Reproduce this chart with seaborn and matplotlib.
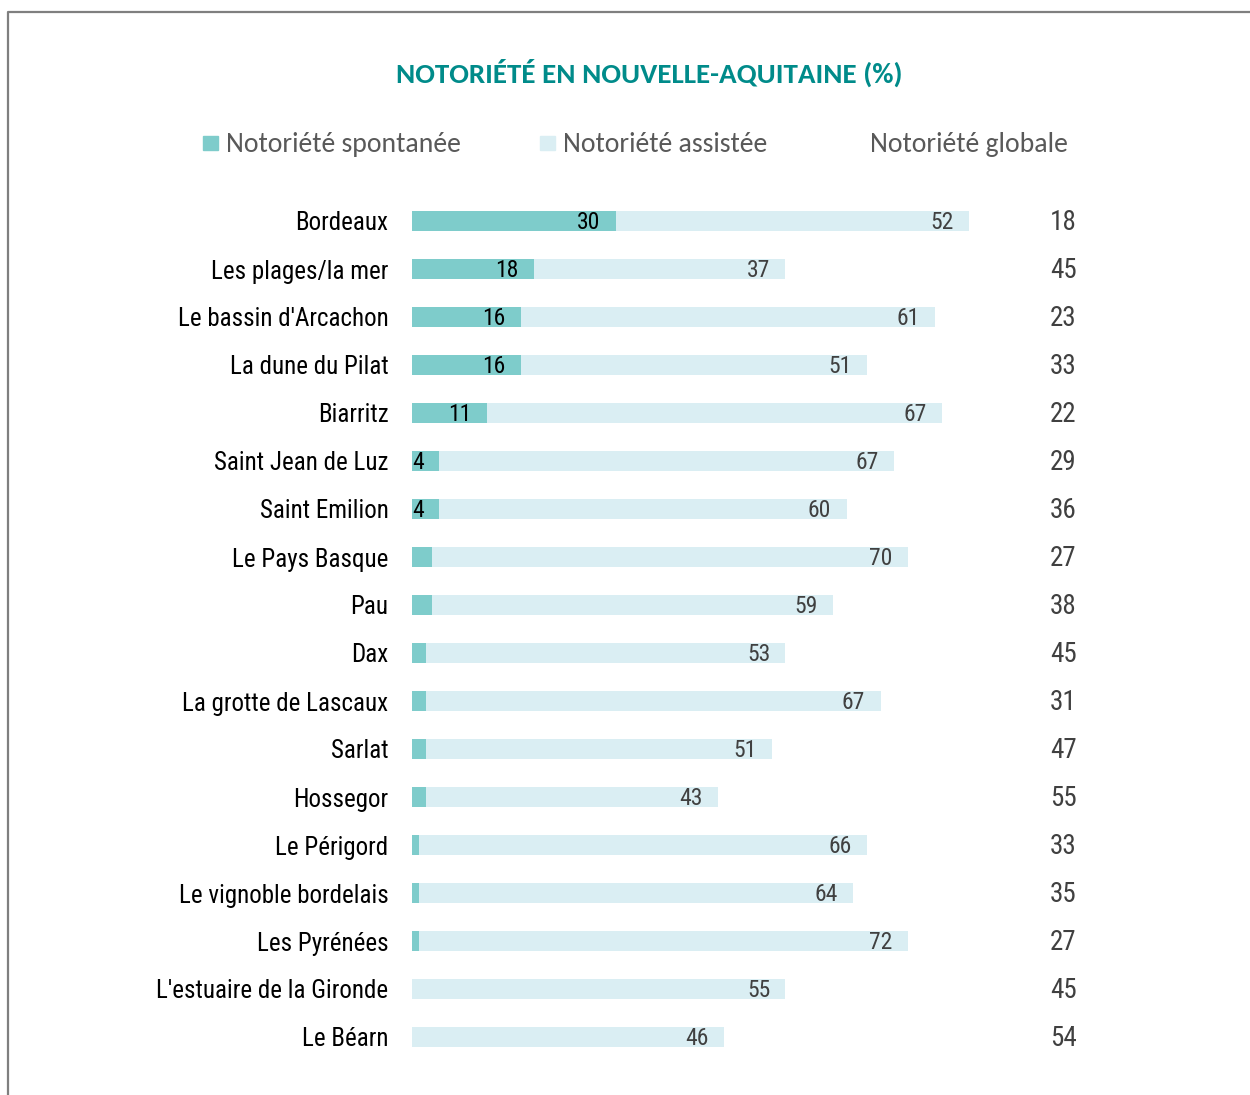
import matplotlib
matplotlib.use("Agg")
import matplotlib.pyplot as plt
import pandas as pd
import seaborn as sns
from matplotlib.lines import Line2D
from matplotlib.patches import Rectangle

sites = ["Bordeaux", "Les plages/la mer", "Le bassin d'Arcachon", "La dune du Pilat",
         "Biarritz", "Saint Jean de Luz", "Saint Emilion", "Le Pays Basque", "Pau",
         "Dax", "La grotte de Lascaux", "Sarlat", "Hossegor", "Le Périgord",
         "Le vignoble bordelais", "Les Pyrénées", "L'estuaire de la Gironde", "Le Béarn"]
spontanee = [30, 18, 16, 16, 11, 4, 4, 3, 3, 2, 2, 2, 2, 1, 1, 1, 0, 0]
assistee = [52, 37, 61, 51, 67, 67, 60, 70, 59, 53, 67, 51, 43, 66, 64, 72, 55, 46]
globale = [18, 45, 23, 33, 22, 29, 36, 27, 38, 45, 31, 47, 55, 33, 35, 27, 45, 54]

TEAL = "#7ECCCB"
LIGHT = "#DAEEF3"
NARROW = ["Roboto Condensed", "Archivo Narrow", "Liberation Sans", "DejaVu Sans"]
CALIBRI = ["Carlito", "Open Sans", "DejaVu Sans"]

df = pd.DataFrame({"site": sites, "spont": spontanee, "assist": assistee, "glob": globale})
df["total"] = df["spont"] + df["assist"]

sns.set_theme(style="white")
plt.rcParams["font.family"] = CALIBRI

fig = plt.figure(figsize=(12.5, 10.95), dpi=100)
ax = fig.add_axes([412 / 1250, 1 - 1061 / 1095, 679 / 1250, 864 / 1095])

sns.barplot(data=df, x="total", y="site", color=LIGHT, width=0.42, saturation=1,
            linewidth=0, ax=ax)
sns.barplot(data=df, x="spont", y="site", color=TEAL, width=0.42, saturation=1,
            linewidth=0, ax=ax)

ax.set_xlim(0, 100)
ax.set_ylim(len(sites) - 0.5, -0.5)
ax.set_xlabel("")
ax.set_ylabel("")
ax.set_xticks([])
sns.despine(ax=ax, left=True, bottom=True)
ax.tick_params(axis="y", length=0, pad=17)
for lab in ax.get_yticklabels():
    lab.set_fontfamily(NARROW)
    lab.set_fontsize(18)
    lab.set_color("black")

for i, row in df.iterrows():
    if row["spont"] >= 4:
        ax.annotate(str(row["spont"]), (row["spont"], i), xytext=(-11, -1),
                    textcoords="offset points", ha="right", va="center",
                    fontsize=17, family=NARROW, color="black")
    ax.annotate(str(row["assist"]), (row["total"], i), xytext=(-11, -1),
                textcoords="offset points", ha="right", va="center",
                fontsize=17, family=NARROW, color="#404040")
    ax.annotate(str(row["glob"]), (95.9, i), xytext=(0, -1),
                textcoords="offset points", ha="center", va="center",
                fontsize=19.5, family=NARROW, color="#404040", annotation_clip=False)

fig.text(649 / 1250, 1 - 73 / 1095, "NOTORIÉTÉ EN NOUVELLE-AQUITAINE (%)",
         ha="center", va="center", fontsize=21, fontweight="bold", color="#008B8A")

# legend
ly = 1 - 152 / 1095
for x0, col, txt in [(203, TEAL, "Notoriété spontanée"), (540, LIGHT, "Notoriété assistée")]:
    fig.patches.append(Rectangle((x0 / 1250, 1 - 150 / 1095), 15 / 1250, 14 / 1095,
                                 transform=fig.transFigure, color=col))
    fig.text((x0 + 23) / 1250, ly, txt, ha="left", va="baseline", fontsize=20, color="#595959")
fig.text(870 / 1250, ly, "Notoriété globale", ha="left", va="baseline", fontsize=20, color="#595959")

# frame
bx = 7.5 / 1250
by = 1 - 11.5 / 1095
fig.lines.append(Line2D([bx, bx, 1], [0, by, by], transform=fig.transFigure,
                        color="#7F7F7F", lw=1.6))

fig.savefig("out.png", dpi=100)
